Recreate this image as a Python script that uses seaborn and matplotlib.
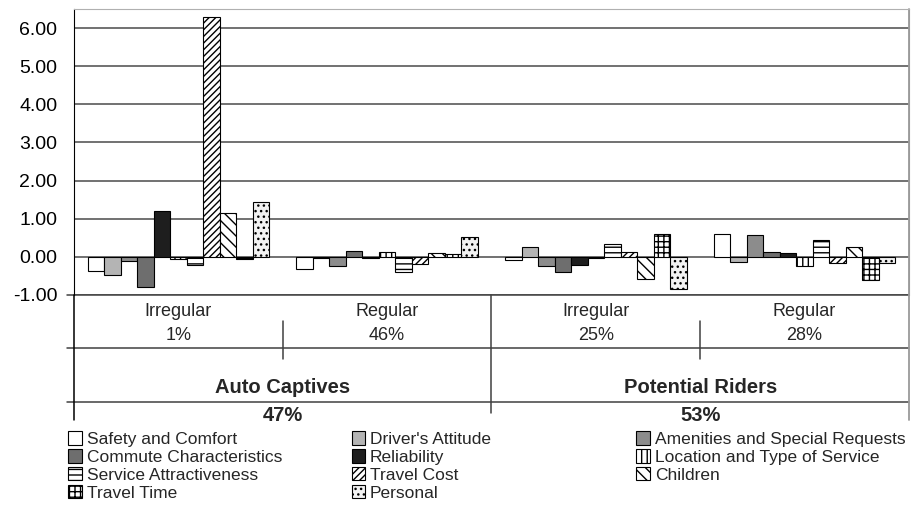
import matplotlib.pyplot as plt
import matplotlib.transforms as mtransforms
from matplotlib.patches import Patch
import pandas as pd
import seaborn as sns

groups = ["Irregular\n1%", "Regular\n46%", "Irregular\n25%", "Regular\n28%"]
segments = ["Auto Captives\n47%", "Potential Riders\n53%"]

factors = [
    "Safety and Comfort", "Driver's Attitude", "Amenities and Special Requests",
    "Commute Characteristics", "Reliability", "Location and Type of Service",
    "Service Attractiveness", "Travel Cost", "Children", "Travel Time", "Personal",
]

# one list per group, in factor order
auto_irregular = [-0.38, -0.47, -0.12, -0.80, 1.19, -0.06, -0.22, 6.30, 1.16, -0.06, 1.45]
auto_regular = [-0.31, -0.03, -0.24, 0.16, -0.03, 0.14, -0.41, -0.18, 0.10, 0.07, 0.52]
pot_irregular = [-0.08, 0.25, -0.25, -0.40, -0.21, -0.02, 0.33, 0.14, -0.58, 0.59, -0.85]
pot_regular = [0.59, -0.14, 0.58, 0.12, 0.11, -0.25, 0.43, -0.17, 0.27, -0.60, -0.15]

colors = ["white", "#b4b4b4", "#8c8c8c", "#6e6e6e", "#1e1e1e", "white",
          "white", "white", "white", "white", "#f2f2f2"]
hatches = [None, None, None, None, None, "|||", "---", "/////", "\\\\\\", "+++", "..."]

df = pd.DataFrame({
    "group": [g for g in groups for _ in factors],
    "factor": factors * len(groups),
    "value": auto_irregular + auto_regular + pot_irregular + pot_regular,
})

sns.set_style("white")
plt.rcParams["font.family"] = ["Liberation Sans", "DejaVu Sans"]
plt.rcParams["hatch.linewidth"] = 1.0

fig = plt.figure(figsize=(9.19, 5.08), dpi=100)
ax = fig.add_axes([0.0805, 0.4193, 0.9085, 0.563])

sns.barplot(data=df, x="group", y="value", hue="factor", hue_order=factors,
            palette=colors, width=0.87, edgecolor="black", linewidth=0.8,
            saturation=1, ax=ax, legend=False)

for cont, fc, h in zip(ax.containers, colors, hatches):
    for p in cont:
        p.set_facecolor(fc)
        p.set_edgecolor("black")
        if h:
            p.set_hatch(h)

ax.set_xlim(-0.5, 3.5)
ax.set_ylim(-1.0, 6.5)
ax.set_yticks(range(-1, 7))
ax.set_yticklabels([f"{v:.2f}" for v in range(-1, 7)], fontsize=14)
ax.tick_params(axis="y", direction="out", length=6, width=1, color="black",
               pad=6, labelcolor="black")
ax.set_xticks([])
ax.set_xlabel("")
ax.set_ylabel("")
for v in range(-1, 7):
    ax.axhline(v, color="#4a4a4a", lw=1.1, zorder=0.5)

ax.spines["left"].set_color("black")
ax.spines["top"].set_color("#b0b0b0")
ax.spines["right"].set_color("#9a9a9a")
ax.spines["bottom"].set_visible(False)

# category table under the plot
trans = mtransforms.blended_transform_factory(ax.transData, ax.transAxes)
left_x = -0.5 - 7 / 210.0
for yy in [0.0, -0.185, -0.374]:
    ax.plot([left_x, 3.5], [yy, yy], transform=trans, color="#404040", lw=1.1, clip_on=False)
ax.plot([-0.5, -0.5], [0, -0.437], transform=trans, color="black", lw=1.1, clip_on=False)
ax.plot([3.5, 3.5], [1, -0.437], transform=trans, color="#9a9a9a", lw=1.3, clip_on=False)
ax.plot([1.5, 1.5], [0, -0.413], transform=trans, color="#404040", lw=1.1, clip_on=False)
for xx in [0.5, 2.5]:
    ax.plot([xx, xx], [-0.091, -0.224], transform=trans, color="#404040", lw=1.1, clip_on=False)

for i, g in enumerate(groups):
    name, pct = g.split("\n")
    ax.text(i, -0.056, name, transform=trans, ha="center", va="center", fontsize=13)
    ax.text(i, -0.14, pct, transform=trans, ha="center", va="center", fontsize=13)
for i, s in enumerate(segments):
    name, pct = s.split("\n")
    ax.text(2 * i + 0.5, -0.322, name, transform=trans, ha="center", va="center",
            fontsize=14.5, fontweight="bold")
    ax.text(2 * i + 0.5, -0.42, pct, transform=trans, ha="center", va="center",
            fontsize=14.5, fontweight="bold")

# legend: three columns filled row by row
handles = [Patch(facecolor=c, edgecolor="black", hatch=h, linewidth=0.8)
           for c, h in zip(colors, hatches)]
col_x = [0.0745, 0.3825, 0.6925]
for k, x0 in enumerate(col_x):
    idx = list(range(k, len(factors), 3))
    fig.legend([handles[i] for i in idx], [factors[i] for i in idx],
               loc="upper left", bbox_to_anchor=(x0, 0.151), frameon=False,
               fontsize=12.5, handlelength=0.8, handleheight=0.8,
               handletextpad=0.25, labelspacing=0.13, borderpad=0, borderaxespad=0)

fig.savefig("out.png", dpi=100)
